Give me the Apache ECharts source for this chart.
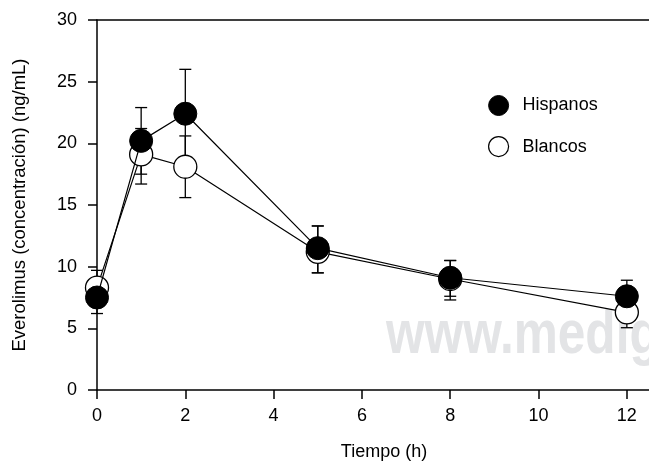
<!DOCTYPE html>
<html>
<head>
<meta charset="utf-8">
<script src="https://cdn.jsdelivr.net/npm/echarts@6/dist/echarts.min.js"></script>
<style>html,body{margin:0;padding:0;background:#fff}#c{width:649px;height:462px}</style>
</head>
<body>
<div id="c"></div>
<script>
var times = [0, 1, 2, 5, 8, 12];
var hispanos = [7.5, 20.2, 22.4, 11.5, 9.1, 7.6];
var hispanosHigh = [8.8, 22.9, 26.0, 13.3, 10.5, 8.9];
var hispanosLow = [6.2, 17.5, 18.8, 9.5, 7.6, 6.3];
var blancos = [8.3, 19.1, 18.1, 11.2, 9.0, 6.3];
var blancosHigh = [9.7, 21.2, 20.6, 13.3, 10.5, 7.5];
var blancosLow = [6.9, 16.7, 15.6, 9.5, 7.3, 5.05];
var yTicks = [0, 5, 10, 15, 20, 25, 30];
var xTicks = [0, 2, 4, 6, 8, 10, 12];

var FONT = 'Liberation Sans, Arial, Helvetica, sans-serif';

function pairs(v) { return times.map(function (t, i) { return [t, v[i]]; }); }
function errData(lo, hi) { return times.map(function (t, i) { return [t, lo[i], hi[i]]; }); }

function errRender(params, api) {
  var x = api.value(0);
  var lo = api.coord([x, api.value(1)]);
  var hi = api.coord([x, api.value(2)]);
  var w = 6;
  var st = { stroke: '#000', lineWidth: 1.3, fill: null };
  return {
    type: 'group',
    children: [
      { type: 'line', shape: { x1: lo[0], y1: lo[1], x2: hi[0], y2: hi[1] }, style: st },
      { type: 'line', shape: { x1: hi[0] - w, y1: hi[1], x2: hi[0] + w, y2: hi[1] }, style: st },
      { type: 'line', shape: { x1: lo[0] - w, y1: lo[1], x2: lo[0] + w, y2: lo[1] }, style: st }
    ]
  };
}

var chart = echarts.init(document.getElementById('c'), null, { renderer: 'canvas' });
chart.setOption({
  animation: false,
  backgroundColor: '#fff',
  textStyle: { fontFamily: FONT },
  grid: { left: 97, right: -22, top: 20, bottom: 72, containLabel: false, outerBoundsMode: 'none' },
  graphic: [{
    type: 'text', z: -10, silent: true,
    style: {
      text: 'www.medig', x: 386, y: 336, verticalAlign: 'middle', align: 'left',
      font: 'bold 62px ' + FONT, fill: '#e3e4e6'
    },
    scaleX: 0.8, originX: 386
  }],
  legend: {
    orient: 'vertical', left: 483, top: 90, itemWidth: 20, itemHeight: 20, itemGap: 20,
    textStyle: { fontSize: 18, color: '#000', fontFamily: FONT, padding: [0, 0, 0, 9] },
    data: [
      { name: 'Hispanos', icon: 'circle', itemStyle: { color: '#000', borderColor: '#000', borderWidth: 1 } },
      { name: 'Blancos', icon: 'circle', itemStyle: { color: '#fff', borderColor: '#000', borderWidth: 1.2 } }
    ]
  },
  xAxis: [{
    type: 'value', min: 0, max: 13, interval: 2,
    name: 'Tiempo (h)', nameLocation: 'middle', nameGap: 53,
    nameTextStyle: { fontSize: 18, color: '#000', fontFamily: FONT },
    axisLine: { show: true, onZero: false, lineStyle: { color: '#000', width: 1.5 } },
    axisTick: { show: true, inside: false, length: 9, lineStyle: { color: '#000', width: 1.5 } },
    axisLabel: {
      fontSize: 18, color: '#000', margin: 17, fontFamily: FONT,
      formatter: function (v) { return xTicks.indexOf(v) >= 0 ? String(v) : ''; }
    },
    splitLine: { show: false }
  }, {
    type: 'value', min: 0, max: 13, position: 'top',
    axisLine: { show: true, onZero: false, lineStyle: { color: '#000', width: 1.5 } },
    axisTick: { show: false }, axisLabel: { show: false }, splitLine: { show: false }
  }],
  yAxis: {
    type: 'value', min: 0, max: 30, interval: 5,
    name: 'Everolimus (concentración) (ng/mL)', nameLocation: 'middle', nameGap: 68,
    nameTextStyle: { fontSize: 18.5, color: '#000', fontFamily: FONT },
    axisLine: { show: true, lineStyle: { color: '#000', width: 1.5 } },
    axisTick: { show: true, length: 9, lineStyle: { color: '#000', width: 1.5 } },
    axisLabel: {
      fontSize: 18, color: '#000', margin: 20, fontFamily: FONT,
      formatter: function (v) { return yTicks.indexOf(v) >= 0 ? String(v) : ''; }
    },
    splitLine: { show: false }
  },
  series: [
    { type: 'custom', name: 'errB', renderItem: errRender, data: errData(blancosLow, blancosHigh), z: 1, encode: { x: 0, y: [1, 2] } },
    { type: 'custom', name: 'errH', renderItem: errRender, data: errData(hispanosLow, hispanosHigh), z: 1, encode: { x: 0, y: [1, 2] } },
    {
      type: 'line', name: 'Blancos', data: pairs(blancos), z: 3,
      symbol: 'circle', symbolSize: 23,
      lineStyle: { color: '#000', width: 1.2 },
      itemStyle: { color: '#fff', borderColor: '#000', borderWidth: 1.3 }
    },
    {
      type: 'line', name: 'Hispanos', data: pairs(hispanos), z: 4,
      symbol: 'circle', symbolSize: 23,
      lineStyle: { color: '#000', width: 1.2 },
      itemStyle: { color: '#000', borderColor: '#000', borderWidth: 1 }
    }
  ]
});
</script>
</body>
</html>
